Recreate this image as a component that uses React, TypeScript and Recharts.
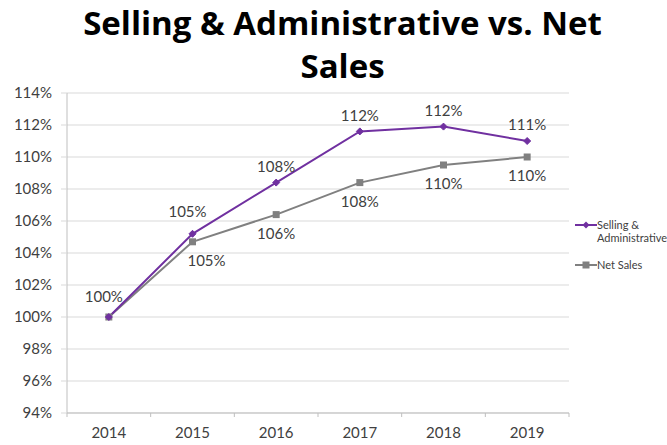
import React from 'react';
import { LineChart, Line, XAxis, YAxis, CartesianGrid, LabelList } from 'recharts';

const years = ['2014', '2015', '2016', '2017', '2018', '2019'];
const sellingAdmin = [100, 105.2, 108.4, 111.6, 111.9, 111.0];
const netSales = [100, 104.7, 106.4, 108.4, 109.5, 110.0];
const yTicks = [94, 96, 98, 100, 102, 104, 106, 108, 110, 112, 114];
const titleLines = ['Selling & Administrative vs. Net', 'Sales'];
const seriesNames = ['Selling & Administrative', 'Net Sales'];

const PURPLE = '#7030A0';
const GRAY = '#808080';
const TEXT = '#404040';
const GRID = '#d9d9d9';
const FONT = 'Lato, "Open Sans", sans-serif';

const W = 667;
const H = 445;
const MARGIN = { top: 93, right: 98, left: 0, bottom: 0 };
const Y_W = 67;
const X_H = 32;
const PLOT_W = W - MARGIN.right - Y_W;
const HALF_BAND = PLOT_W / years.length / 2;
const X_TICK_MARGIN = 20;

const data = years.map((y, i) => ({ year: y, sa: sellingAdmin[i], ns: netSales[i] }));

const fmt = (v: number) => `${Math.round(v)}%`;

const XTick = (props: any) => {
  const { x, y, payload, index } = props;
  const axisY = y - X_TICK_MARGIN;
  return (
    <g>
      <line x1={x - HALF_BAND} x2={x - HALF_BAND} y1={axisY} y2={axisY + 4} stroke="#bfbfbf" />
      {index === years.length - 1 && (
        <line x1={x + HALF_BAND} x2={x + HALF_BAND} y1={axisY} y2={axisY + 4} stroke="#bfbfbf" />
      )}
      <text x={x} y={y} dy="0.35em" textAnchor="middle" fill={TEXT} fontSize={15} fontFamily={FONT}>
        {payload.value}
      </text>
    </g>
  );
};

const Diamond = (props: any) => {
  const { cx, cy } = props;
  if (cx == null || cy == null) return null;
  const r = 3.5;
  return <path d={`M${cx},${cy - r}L${cx + r},${cy}L${cx},${cy + r}L${cx - r},${cy}Z`} fill={PURPLE} stroke={PURPLE} />;
};

const Square = (props: any) => {
  const { cx, cy } = props;
  if (cx == null || cy == null) return null;
  const r = 3.5;
  return <rect x={cx - r} y={cy - r} width={2 * r} height={2 * r} fill={GRAY} />;
};

const SaLabel = (props: any) => {
  const { x, y, value, index } = props;
  const dx = index <= 1 ? -5 : 0;
  const up = index === 0 ? 20 : index === 1 ? 22 : 16;
  return (
    <text x={x + dx} y={y - up} dy="0.35em" textAnchor="middle" fill={TEXT} fontSize={15} fontFamily={FONT}>
      {fmt(value)}
    </text>
  );
};

const NsLabel = (props: any) => {
  const { x, y, value, index } = props;
  if (index === 0) return null;
  const dx = index === 1 ? 14 : 0;
  return (
    <text x={x + dx} y={y + 19} dy="0.35em" textAnchor="middle" fill={TEXT} fontSize={15} fontFamily={FONT}>
      {fmt(value)}
    </text>
  );
};

export default function App() {
  return (
    <div style={{ position: 'absolute', left: 0, top: 0, width: W, height: H, background: '#fff', fontFamily: FONT }}>
      <div
        style={{
          position: 'absolute',
          left: 9,
          top: 1,
          width: W,
          textAlign: 'center',
          fontWeight: 700,
          fontSize: 33,
          lineHeight: '43px',
          color: '#000',
          fontFamily: '"Open Sans", sans-serif',
          whiteSpace: 'nowrap',
        }}
      >
        {titleLines.map((t) => (
          <div key={t}>{t}</div>
        ))}
      </div>
      <LineChart width={W} height={H} data={data} margin={MARGIN}>
        <CartesianGrid horizontal vertical={false} stroke={GRID} />
        <XAxis
          dataKey="year"
          height={X_H}
          padding={{ left: HALF_BAND, right: HALF_BAND }}
          axisLine={{ stroke: '#bfbfbf' }}
          tickLine={false}
          tickSize={0}
          tickMargin={X_TICK_MARGIN}
          tick={<XTick />}
          interval={0}
        />
        <YAxis
          width={Y_W}
          domain={[94, 114]}
          ticks={yTicks}
          type="number"
          allowDataOverflow
          axisLine={{ stroke: '#bfbfbf' }}
          tickLine={{ stroke: GRID }}
          tickSize={6}
          tickMargin={9}
          tickFormatter={(v: number) => `${v}%`}
          tick={{ fill: TEXT, fontSize: 15, fontFamily: FONT }}
        />
        <Line
          dataKey="ns"
          name={seriesNames[1]}
          stroke={GRAY}
          strokeWidth={2}
          dot={<Square />}
          activeDot={false}
          isAnimationActive={false}
        >
          <LabelList dataKey="ns" content={<NsLabel />} />
        </Line>
        <Line
          dataKey="sa"
          name={seriesNames[0]}
          stroke={PURPLE}
          strokeWidth={2}
          dot={<Diamond />}
          activeDot={false}
          isAnimationActive={false}
        >
          <LabelList dataKey="sa" content={<SaLabel />} />
        </Line>
      </LineChart>
      <div style={{ position: 'absolute', left: 575, top: 218, fontSize: 11, color: TEXT, lineHeight: '13px' }}>
        <div style={{ display: 'flex', alignItems: 'flex-start' }}>
          <svg width={22} height={13} style={{ flex: 'none' }}>
            <line x1={0} x2={22} y1={7} y2={7} stroke={PURPLE} strokeWidth={2} />
            <path d="M11,3.5L14.5,7L11,10.5L7.5,7Z" fill={PURPLE} />
          </svg>
          <div style={{ whiteSpace: 'nowrap' }}>
            Selling &amp;
            <br />
            Administrative
          </div>
        </div>
        <div style={{ display: 'flex', alignItems: 'flex-start', marginTop: 14 }}>
          <svg width={22} height={13} style={{ flex: 'none' }}>
            <line x1={0} x2={22} y1={7} y2={7} stroke={GRAY} strokeWidth={2} />
            <rect x={7.5} y={3.5} width={7} height={7} fill={GRAY} />
          </svg>
          <div style={{ whiteSpace: 'nowrap' }}>{seriesNames[1]}</div>
        </div>
      </div>
    </div>
  );
}
